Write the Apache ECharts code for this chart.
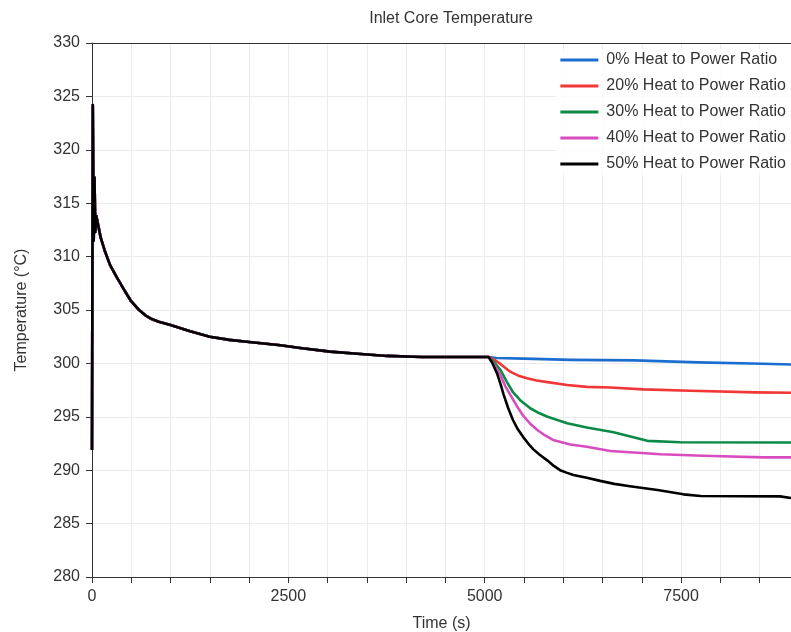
<!DOCTYPE html>
<html>
<head>
<meta charset="utf-8">
<title>Inlet Core Temperature</title>
<script src="https://cdn.jsdelivr.net/npm/echarts@6/dist/echarts.min.js"></script>
<style>
  html, body { margin: 0; padding: 0; background: #fff; }
  #chart { width: 791px; height: 632px; }
</style>
</head>
<body>
<div id="chart"></div>
<script>
// Shared start-up transient and settling period, [time s, temperature °C]
const commonHistory = [
  [0, 291.9], [10, 324.2], [22, 311.5], [32, 317.4], [42, 312.3], [55, 313.8],
  [80, 312.9], [110, 311.8], [160, 310.6], [230, 309.2], [320, 308.0], [400, 307.0],
  [500, 305.8], [600, 305.0], [680, 304.5], [760, 304.15], [850, 303.9], [1000, 303.6],
  [1250, 303.0], [1500, 302.5], [1750, 302.2], [2000, 302.0], [2400, 301.7],
  [2650, 301.45], [3030, 301.1], [3380, 300.9], [3760, 300.7], [4200, 300.6],
  [4520, 300.6], [5050, 300.6]
];

// Response after heat extraction begins, one branch per heat-to-power ratio
const branch0 = [
  [5150, 300.5], [5500, 300.45], [6100, 300.33], [6900, 300.28], [6910, 300.13],
  [7720, 300.1], [7730, 300.0], [8540, 299.97], [8550, 299.9], [8900, 299.9]
];
const branch20 = [
  [5120, 300.35], [5200, 299.95], [5260, 299.6], [5330, 299.2], [5430, 298.85],
  [5540, 298.6], [5660, 298.4], [5800, 298.25], [6050, 297.97],
  [6300, 297.8], [6600, 297.75], [7020, 297.57], [7620, 297.44], [8450, 297.29],
  [8900, 297.25]
];
const branch30 = [
  [5110, 300.2], [5200, 299.4], [5280, 298.3], [5360, 297.3], [5460, 296.5],
  [5580, 295.8], [5690, 295.35], [5800, 295.0], [6050, 294.4],
  [6300, 294.0], [6640, 293.55], [7070, 292.75], [7490, 292.62], [8900, 292.6]
];
const branch40 = [
  [5110, 300.0], [5200, 298.9], [5260, 297.9], [5330, 297.0], [5410, 296.0],
  [5490, 295.1], [5580, 294.35], [5670, 293.76], [5770, 293.25], [5870, 292.83],
  [6090, 292.4], [6300, 292.2], [6600, 291.8], [7240, 291.5], [7780, 291.36],
  [8550, 291.2], [8900, 291.2]
];
const branch50 = [
  [5100, 300.0], [5160, 299.0], [5200, 298.1], [5240, 297.1], [5300, 295.8],
  [5360, 294.7], [5420, 293.85], [5490, 293.1], [5560, 292.45], [5620, 291.95],
  [5700, 291.45], [5800, 290.9], [5880, 290.4], [5960, 290.0], [6050, 289.75],
  [6130, 289.55], [6300, 289.3], [6470, 289.0], [6650, 288.72],
  [6850, 288.5], [7200, 288.15], [7530, 287.74], [7750, 287.58], [8760, 287.55],
  [8900, 287.4]
];

const seriesNames = [
  '0% Heat to Power Ratio',
  '20% Heat to Power Ratio',
  '30% Heat to Power Ratio',
  '40% Heat to Power Ratio',
  '50% Heat to Power Ratio'
];
const branches = [branch0, branch20, branch30, branch40, branch50];
const colors = ['#1c6dd0', '#f03636', '#0b8a47', '#d94cc0', '#000000'];

const yTicks = [280, 285, 290, 295, 300, 305, 310, 315, 320, 325, 330];
const xLabelStep = 2500;

const FONT = 'Liberation Sans, Arial, sans-serif';
const chart = echarts.init(document.getElementById('chart'), null, { renderer: 'canvas' });

chart.setOption({
  backgroundColor: '#ffffff',
  animation: false,
  title: {
    text: 'Inlet Core Temperature',
    left: 446,
    textAlign: 'center',
    top: 6,
    textStyle: { fontFamily: FONT, fontSize: 16, fontWeight: 'normal', color: '#333' }
  },
  legend: {
    orient: 'vertical',
    right: 0,
    top: 49,
    itemGap: 10,
    itemWidth: 38,
    itemHeight: 3,
    icon: 'rect',
    padding: [3, 5, 3, 5],
    backgroundColor: 'rgba(255,255,255,0.8)',
    data: seriesNames,
    textStyle: { fontFamily: FONT, fontSize: 16, color: '#333', padding: [0, 0, 0, 3] }
  },
  grid: {
    left: 92, right: 0, top: 43, bottom: 55,
    containLabel: false,
    outerBoundsMode: 'none'
  },
  xAxis: [{
    type: 'value',
    min: 0,
    max: 8900,
    interval: 500,
    name: 'Time (s)',
    nameLocation: 'middle',
    nameGap: 39,
    nameTextStyle: { fontFamily: FONT, fontSize: 16, color: '#333' },
    axisLine: { show: true, lineStyle: { color: '#333', width: 1 } },
    axisTick: { show: true, length: 6, lineStyle: { color: '#333' } },
    axisLabel: {
      fontFamily: FONT, fontSize: 16, color: '#333', margin: 12,
      showMaxLabel: false,
      formatter: v => (v % xLabelStep === 0 ? String(v) : '')
    },
    splitLine: { show: true, lineStyle: { color: '#ebebeb', width: 1 } }
  }, {
    type: 'value',
    position: 'top',
    min: 0,
    max: 8900,
    axisLine: { show: true, lineStyle: { color: '#333', width: 1 } },
    axisTick: { show: false },
    axisLabel: { show: false },
    splitLine: { show: false }
  }],
  yAxis: {
    type: 'value',
    min: yTicks[0],
    max: yTicks[yTicks.length - 1],
    interval: 5,
    name: 'Temperature (°C)',
    nameLocation: 'middle',
    nameGap: 62,
    nameTextStyle: { fontFamily: FONT, fontSize: 16, color: '#333' },
    axisLine: { show: true, lineStyle: { color: '#333', width: 1 } },
    axisTick: { show: true, length: 6, lineStyle: { color: '#333' } },
    axisLabel: { fontFamily: FONT, fontSize: 16, color: '#333', margin: 12 },
    splitLine: { show: true, lineStyle: { color: '#ebebeb', width: 1 } }
  },
  series: seriesNames.map((name, i) => ({
    name: name,
    type: 'line',
    xAxisIndex: 0,
    data: commonHistory.concat(branches[i]),
    showSymbol: false,
    symbol: 'none',
    color: colors[i],
    lineStyle: { color: colors[i], width: 2.6, join: 'round' },
    z: 2 + i
  }))
});
</script>
</body>
</html>
